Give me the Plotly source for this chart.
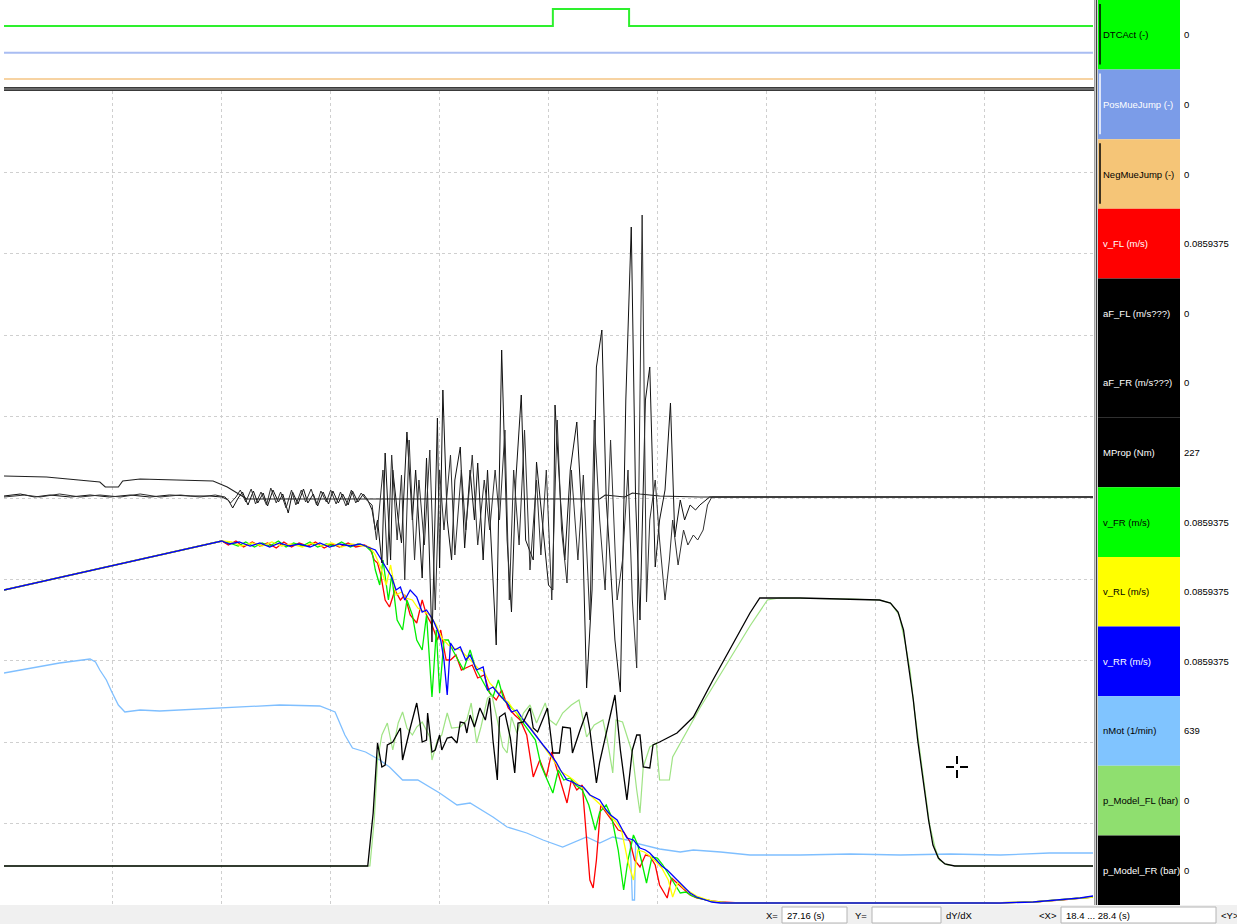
import plotly.graph_objects as go

W, H = 1237, 924

# ---------------- data (time in s, values in signal units) ----------------
DTC_ACT = [(18.40, 0), (23.44, 1), (24.14, 0), (28.40, 0)]
POS_MUE_JUMP = [(18.40, 0), (28.40, 0)]
NEG_MUE_JUMP = [(18.40, 0), (28.40, 0)]

V_FL = [(18.40,31.3),(20.40,36.2),(20.46,35.8),(20.53,36.2),(20.60,35.6),(20.68,36.1),(20.75,35.7),(20.82,36.0),
        (20.90,35.5),(20.97,36.1),(21.04,35.6),(21.11,36.0),(21.19,35.7),(21.26,36.1),(21.34,35.5),(21.41,35.9),
        (21.48,35.6),(21.56,36.0),(21.63,35.6),(21.71,35.8),(21.76,35.5),(21.80,34.3),(21.83,34.0),(21.86,32.8),
        (21.90,30.3),(21.94,29.6),(21.99,31.3),(22.04,30.3),(22.08,30.8),(22.13,28.8),(22.19,28.0),(22.24,30.3),
        (22.28,28.8),(22.33,27.8),(22.38,26.3),(22.41,27.3),(22.46,24.3),(22.50,24.3),(22.55,24.8),(22.60,23.3),
        (22.64,23.5),(22.70,23.8),(22.75,22.5),(22.81,22.8),(22.86,21.0),(22.92,20.3),(22.97,21.3),(23.03,19.5),
        (23.09,18.8),(23.14,18.3),(23.20,16.8),(23.26,12.6),(23.32,14.3),(23.38,12.6),(23.43,15.1),(23.48,13.3),
        (23.53,11.3),(23.57,10.0),(23.61,12.3),(23.66,11.3),(23.71,11.8),(23.74,7.3),(23.78,2.3),(23.81,1.5),
        (23.84,4.3),(23.88,9.8),(23.93,9.1),(23.98,8.3),(24.04,7.3),(24.09,7.1),(24.15,6.1),(24.19,4.3),
        (24.24,3.6),(24.29,4.8),(24.33,4.7),(24.38,3.8),(24.42,1.8),(24.49,0.5),(24.53,2.5),(24.58,2.0),
        (24.64,1.3),(24.70,0.8),(24.76,0.5),(24.84,0.3),(24.90,0.2),(24.98,0.1),(25.16,0.0),(27.41,0.0),
        (27.85,0.1),(28.10,0.3),(28.40,0.6)]

V_FR = [(18.40,31.3),(20.40,36.2),(20.47,36.0),(20.55,35.7),(20.62,36.1),(20.70,35.6),(20.77,36.0),(20.84,35.7),
        (20.92,36.2),(20.99,35.6),(21.06,36.0),(21.14,35.7),(21.21,36.1),(21.28,35.6),(21.36,35.9),(21.43,35.7),
        (21.50,36.1),(21.58,35.6),(21.65,35.9),(21.72,35.7),(21.78,35.1),(21.81,33.3),(21.85,31.8),(21.88,34.3),
        (21.93,30.3),(21.96,32.8),(22.01,28.3),(22.06,27.3),(22.10,30.3),(22.15,28.8),(22.19,26.3),(22.24,25.3),
        (22.28,28.8),(22.33,20.6),(22.37,27.3),(22.40,21.0),(22.44,26.3),(22.48,26.3),(22.52,25.3),(22.57,24.3),
        (22.62,23.3),(22.68,25.3),(22.73,23.5),(22.79,22.3),(22.84,21.3),(22.89,20.6),(22.94,22.3),(22.99,20.3),
        (23.05,19.7),(23.10,19.1),(23.16,18.1),(23.21,17.3),(23.28,16.3),(23.33,13.8),(23.39,12.3),(23.44,11.0),
        (23.49,13.3),(23.54,12.3),(23.60,12.5),(23.65,11.8),(23.71,11.3),(23.77,9.8),(23.83,7.3),(23.87,9.1),
        (23.93,9.8),(23.98,8.6),(24.04,5.3),(24.09,1.3),(24.13,4.3),(24.18,6.8),(24.22,5.8),(24.27,3.3),
        (24.30,2.0),(24.35,4.6),(24.40,4.5),(24.45,3.8),(24.51,2.8),(24.57,1.8),(24.61,1.0),(24.66,1.1),
        (24.72,0.7),(24.77,0.5),(24.85,0.3),(24.93,0.1),(25.07,0.0),(27.41,0.0),(27.85,0.1),(28.10,0.3),
        (28.40,0.6)]

V_RL = [(18.40,31.3),(20.40,36.2),(20.49,36.1),(20.58,35.7),(20.68,36.0),(20.77,35.7),(20.86,36.1),(20.95,35.7),
        (21.04,35.9),(21.14,35.6),(21.23,36.0),(21.32,35.7),(21.41,36.0),(21.50,35.6),(21.59,35.9),(21.69,35.7),
        (21.76,35.6),(21.81,34.8),(21.86,33.5),(21.91,31.8),(21.95,33.8),(22.00,30.8),(22.05,31.1),(22.09,30.5),
        (22.15,30.3),(22.20,29.5),(22.26,29.1),(22.31,28.8),(22.37,27.8),(22.42,26.5),(22.48,25.8),(22.53,25.5),
        (22.59,25.3),(22.64,24.8),(22.70,24.1),(22.75,23.5),(22.81,23.1),(22.86,22.0),(22.92,21.3),(22.97,20.5),
        (23.03,20.1),(23.08,19.3),(23.14,18.7),(23.19,18.1),(23.25,17.3),(23.30,16.5),(23.36,15.5),(23.41,14.8),
        (23.47,13.9),(23.52,13.1),(23.58,12.7),(23.63,12.3),(23.69,11.7),(23.74,11.3),(23.80,10.6),(23.85,10.1),
        (23.91,9.5),(23.96,8.8),(24.02,8.1),(24.07,7.3),(24.13,4.1),(24.18,2.3),(24.22,5.3),(24.28,5.1),
        (24.33,4.7),(24.39,4.1),(24.44,3.5),(24.50,2.3),(24.54,0.6),(24.59,2.1),(24.64,1.5),(24.70,1.1),
        (24.76,0.7),(24.84,0.4),(24.90,0.2),(25.02,0.0),(27.41,0.0),(27.85,0.1),(28.10,0.3),(28.40,0.6)]

V_RR = [(18.40,31.3),(20.40,36.2),(20.47,35.9),(20.56,36.1),(20.66,35.7),(20.75,36.0),(20.84,35.6),(20.93,36.0),
        (21.02,35.7),(21.11,35.9),(21.21,35.6),(21.30,36.0),(21.39,35.6),(21.48,35.9),(21.58,35.7),(21.67,35.9),
        (21.74,35.6),(21.81,35.3),(21.85,34.6),(21.91,33.5),(21.96,32.6),(22.00,31.3),(22.04,31.6),(22.08,30.3),
        (22.13,31.3),(22.19,30.6),(22.24,29.1),(22.28,29.3),(22.34,28.3),(22.38,27.3),(22.41,26.3),(22.44,24.3),
        (22.47,20.8),(22.50,26.0),(22.54,25.3),(22.59,25.6),(22.64,24.3),(22.68,24.8),(22.74,23.3),(22.80,23.6),
        (22.84,21.3),(22.89,21.6),(22.95,20.8),(23.02,20.0),(23.06,19.1),(23.11,19.3),(23.17,18.3),(23.23,17.5),
        (23.29,16.6),(23.35,15.8),(23.41,15.0),(23.47,14.1),(23.51,13.3),(23.57,12.3),(23.62,12.1),(23.67,11.8),
        (23.72,11.6),(23.78,10.8),(23.87,10.3),(23.93,9.3),(23.97,8.8),(24.03,8.3),(24.08,7.3),(24.12,6.5),
        (24.18,6.3),(24.24,5.5),(24.29,5.3),(24.33,5.0),(24.39,4.3),(24.44,3.7),(24.49,3.3),(24.56,2.5),
        (24.64,1.6),(24.70,1.0),(24.76,0.6),(24.84,0.3),(24.90,0.1),(24.98,0.0),(25.71,0.0),(26.63,0.0),
        (27.41,0.0),(27.55,0.0),(27.85,0.1),(28.10,0.3),(28.28,0.5),(28.40,0.7)]

AF_FL = [(18.40,0.05),(18.55,0.15),(18.68,0),(18.82,0.1),(19.01,0),(19.19,0.1),(19.37,0),(19.56,0.1),(19.74,0),
         (19.92,0.1),(20.11,0.05),(20.29,0.05),(20.40,0),(20.46,-0.15),(20.50,-0.55),(20.55,-0.05),(20.59,0.25),
         (20.64,-0.4),(20.69,0.3),(20.73,-0.3),(20.78,0.2),(20.82,-0.45),(20.87,0.35),(20.92,-0.25),(20.96,0.15),
         (21.01,-0.8),(21.05,0.25),(21.10,-0.35),(21.15,0.4),(21.19,-0.3),(21.24,0.15),(21.28,-0.45),(21.33,0.25),
         (21.38,-0.35),(21.42,0.3),(21.47,-0.3),(21.51,0.15),(21.56,-0.4),(21.60,0.3),(21.65,-0.25),(21.70,0.15),
         (21.74,-0.15),(21.78,-0.65),(21.81,-1.65),(21.83,-1.15),(21.87,-3.3),(21.90,2.2),(21.95,-3.15),(21.97,1.35),
         (22.02,-1.15),(22.05,-2.3),(22.10,3.25),(22.15,-1.15),(22.18,1.35),(22.24,-4.05),(22.28,1.95),(22.33,-7.25),
         (22.38,3.95),(22.40,-3.55),(22.43,5.35),(22.47,-1.15),(22.51,-3.15),(22.54,0.85),(22.59,2.5),(22.63,-2.55),
         (22.68,1.35),(22.72,-1.15),(22.75,1.7),(22.80,-3.15),(22.84,1.35),(22.92,-7.4),(22.97,7.35),(23.02,-2.15),
         (23.06,-5.75),(23.10,0.85),(23.15,5.1),(23.19,-2.15),(23.26,-3.15),(23.29,1.75),(23.34,-1.15),(23.40,-4.4),
         (23.44,-4.65),(23.46,4.6),(23.51,-0.15),(23.55,-3.15),(23.60,1.35),(23.66,3.75),(23.71,-1.15),(23.75,-9.55),
         (23.80,-4.65),(23.84,6.5),(23.89,8.35),(23.93,-0.15),(23.96,-2.65),(24.01,-7.15),(24.06,-9.75),(24.11,4.85),
         (24.16,13.5),(24.20,-0.15),(24.24,-6.15),(24.29,4.85),(24.33,6.5),(24.38,-3.5),(24.42,-1.15),(24.47,0.35),
         (24.52,4.7),(24.56,-2.0),(24.61,-0.15),(24.65,-1.15),(24.70,-0.4),(24.75,-0.65),(24.79,-0.4),(24.84,-0.15),
         (24.88,0),(28.40,0)]

AF_FR = [(18.40,0),(18.59,0.1),(18.73,0),(18.91,0.15),(19.10,0),(19.28,0.1),(19.47,0),(19.65,0.15),(19.83,0),
         (20.02,0.1),(20.20,0),(20.34,0.1),(20.43,0),(20.48,-0.3),(20.53,0),(20.57,0.35),(20.62,-0.25),(20.67,0.4),
         (20.71,-0.35),(20.76,0.25),(20.81,-0.4),(20.85,0.45),(20.90,-0.3),(20.94,0.25),(20.99,-0.55),(21.04,0.35),
         (21.08,-0.4),(21.13,0.35),(21.17,-0.25),(21.22,0.4),(21.27,-0.4),(21.31,0.3),(21.36,-0.25),(21.40,0.35),
         (21.45,-0.35),(21.49,0.25),(21.54,-0.45),(21.59,0.35),(21.63,-0.3),(21.68,0.2),(21.72,-0.1),(21.78,-0.4),
         (21.82,-2.15),(21.88,1.35),(21.92,-3.4),(21.96,2.1),(22.01,-2.15),(22.05,1.1),(22.08,-4.15),(22.12,2.85),
         (22.17,-3.15),(22.21,0.85),(22.26,-2.4),(22.31,2.35),(22.36,-5.65),(22.40,1.35),(22.44,-1.65),(22.50,2.1),
         (22.54,-2.9),(22.60,1.35),(22.64,-1.65),(22.70,2.1),(22.75,-2.4),(22.81,0.85),(22.86,-1.65),(22.91,1.35),
         (22.95,-1.15),(23.00,3.35),(23.04,-5.15),(23.08,1.35),(23.13,-2.4),(23.18,3.35),(23.23,-3.65),(23.29,0.85),
         (23.33,-2.9),(23.38,1.35),(23.43,-5.15),(23.48,3.85),(23.52,-1.65),(23.57,-4.3),(23.61,1.35),(23.67,-3.15),
         (23.72,1.1),(23.78,-6.15),(23.82,3.85),(23.87,-1.15),(23.92,-4.65),(23.97,2.85),(24.03,-5.15),(24.08,-3.15),
         (24.13,1.35),(24.17,-5.15),(24.21,-8.55),(24.26,14.1),(24.30,-5.25),(24.33,-1.15),(24.38,0.85),(24.42,-2.15),
         (24.47,-5.15),(24.51,-3.15),(24.54,-1.15),(24.59,-3.4),(24.64,-1.65),(24.68,-2.4),(24.73,-1.9),(24.77,-2.15),
         (24.82,-1.65),(24.86,-0.4),(24.90,0),(28.40,0)]

M_PROP = [(18.40,258.5),(18.79,257),(19.28,249.5),(19.33,242),(19.45,242),(19.49,251),(19.65,254),(20.32,251),
          (20.45,242),(20.57,230),(20.63,224),(23.87,224),(23.92,230),(24.10,227),(24.17,233),(24.24,231.5),
          (24.42,228.5),(24.79,227),(28.40,227)]

N_MOT = [(18.40,2459),(18.64,2509),(18.91,2559),(19.19,2599),(19.24,2569),(19.28,2489),(19.34,2389),(19.39,2269),
         (19.45,2139),(19.51,2069),(19.65,2089),(19.83,2079),(20.20,2099),(20.57,2119),(20.93,2139),(21.30,2129),
         (21.44,2069),(21.53,1839),(21.60,1709),(21.72,1669),(21.85,1589),(21.94,1519),(22.06,1389),(22.20,1389),
         (22.40,1259),(22.56,1139),(22.68,1159),(22.89,1019),(23.02,919),(23.20,859),(23.35,789),(23.53,719),
         (23.62,759),(23.75,819),(23.87,759),(23.99,819),(24.12,789),(24.15,779),(24.17,189),(24.19,189),
         (24.20,759),(24.27,739),(24.42,699),(24.61,669),(24.73,689),(24.98,669),(25.25,639),(25.71,639),
         (26.17,649),(26.63,639),(27.09,649),(27.55,639),(28.00,659),(28.40,659)]

P_MODEL_FL = [(18.40,0),(21.76,0),(21.80,23),(21.83,53),(21.87,65.5),(21.92,71.5),(21.97,58),(22.02,71.5),
              (22.06,77),(22.10,69),(22.15,65.5),(22.19,69.5),(22.24,72),(22.31,64.5),(22.33,53),(22.38,63),
              (22.42,65.5),(22.47,76.5),(22.51,69),(22.59,69.5),(22.65,73),(22.69,81.5),(22.74,61.5),(22.78,69.5),
              (22.84,84),(22.88,85.5),(22.93,73),(22.98,59.5),(23.02,56.5),(23.06,74.5),(23.11,66.5),(23.17,76.5),
              (23.23,80.5),(23.29,71.5),(23.37,81.5),(23.41,73),(23.47,70.5),(23.53,76.5),(23.61,80.5),(23.68,83),
              (23.75,64.5),(23.82,70.5),(23.90,73),(23.94,63),(23.99,46.5),(24.02,73),(24.08,72),(24.12,65.5),
              (24.17,56.5),(24.21,38),(24.24,26.5),(24.27,49.5),(24.33,59.5),(24.39,61.5),(24.42,43),(24.51,43),
              (24.54,54.5),(24.79,79),(25.25,120),(25.41,133),(25.52,134),(26.17,133.5),(26.44,133),(26.54,131.5),
              (26.62,125.5),(26.67,113),(26.72,98),(26.76,78),(26.81,58),(26.86,38),(26.90,20.5),(26.95,9),
              (26.99,3),(27.06,0.5),(27.16,0),(28.40,0)]

P_MODEL_FR = [(18.40,0),(21.74,0),(21.79,26.5),(21.83,61.5),(21.87,49.5),(21.90,50.5),(21.92,60.5),(21.97,62.0),
              (22.04,69.0),(22.06,53.0),(22.13,69.0),(22.19,81.5),(22.22,71.5),(22.24,62.0),(22.28,63.0),(22.29,76.5),
              (22.33,57.0),(22.36,58.0),(22.40,65.5),(22.42,58.0),(22.47,64.0),(22.51,64.5),(22.56,61.5),(22.59,72.0),
              (22.63,71.5),(22.65,66.5),(22.68,75.5),(22.72,69.5),(22.77,79.0),(22.82,73.0),(22.86,84.0),(22.89,63.0),
              (22.93,43.0),(22.95,74.5),(23.00,76.5),(23.05,64.0),(23.09,46.5),(23.12,71.5),(23.17,72.0),(23.23,79.0),
              (23.26,69.0),(23.30,67.0),(23.39,79.0),(23.44,56.5),(23.50,56.5),(23.53,69.5),(23.60,69.0),(23.62,56.5),
              (23.69,68.0),(23.75,77.0),(23.78,68.0),(23.84,41.5),(23.87,52.0),(23.92,64.5),(23.96,74.5),(24.01,85.5),
              (24.06,58.0),(24.12,33.0),(24.17,58.0),(24.21,65.5),(24.24,65.5),(24.27,49.5),(24.33,49.0),(24.36,60.5),
              (24.42,62.0),(24.58,66.5),(24.73,74.5),(24.91,93.0),(25.25,126.5),(25.34,134.0),(25.71,134.0),
              (26.17,133.5),(26.44,133.0),(26.54,131.5),(26.61,127.0),(26.66,118.0),(26.70,103.0),(26.75,83.0),
              (26.79,63.0),(26.84,43.0),(26.89,23.0),(26.93,10.5),(26.98,4.0),(27.04,1.0),(27.13,0),(28.40,0)]

LEGEND_NAMES = ["DTCAct (-)", "PosMueJump (-)", "NegMueJump (-)", "v_FL (m/s)", "aF_FL (m/s???)",
                "aF_FR (m/s???)", "MProp (Nm)", "v_FR (m/s)", "v_RL (m/s)", "v_RR (m/s)", "nMot (1/min)",
                "p_Model_FL (bar)", "p_Model_FR (bar)"]
LEGEND_VALUES = ["0", "0", "0", "0.0859375", "0", "0", "227", "0.0859375", "0.0859375", "0.0859375",
                 "639", "0", "0"]
TIME_RANGE = [18.4, 28.4]
STATUS_X_VALUE = "27.16 (s)"
STATUS_X_RANGE = "18.4 ... 28.4 (s)"

# ---------------- styles ----------------
BOX_COLORS = ["#00ff00", "#7b9ce8", "#f5c577", "#ff0000", "#000000", "#000000", "#000000",
              "#00ff00", "#ffff00", "#0000ff", "#80c4ff", "#8fdf6f", "#000000"]
LABEL_COLORS = ["#000000", "#ffffff", "#000000", "#ffffff", "#ffffff", "#ffffff", "#ffffff",
                "#000000", "#000000", "#ffffff", "#000000", "#000000", "#ffffff"]
FONT = "Liberation Sans, Arial, sans-serif"
GRID = "#cfcfcf"


def X(px):
    return px / W


def Y(py):
    return 1 - py / H


fig = go.Figure()


def add(points, color, xa, ya, width=1.2, opacity=1.0, shape="linear"):
    t, v = zip(*points)
    fig.add_trace(go.Scatter(x=list(t), y=list(v), mode="lines", xaxis=xa, yaxis=ya,
                             line=dict(color=color, width=width, shape=shape),
                             opacity=opacity, showlegend=False, hoverinfo="skip"))


# top strip
add(DTC_ACT, "#2ef02e", "x2", "y6", width=2, shape="hv")
add(POS_MUE_JUMP, "#a9bdf2", "x2", "y7", width=2)
add(NEG_MUE_JUMP, "#f7d3a2", "x2", "y8", width=2)
# main area
add(N_MOT, "#7fbfff", "x", "y", width=1.3)
add(V_FL, "#ff0000", "x", "y2", width=1.3)
add(V_FR, "#00ee00", "x", "y2", width=1.3)
add(V_RL, "#ffff00", "x", "y2", width=1.3)
add(V_RR, "#0000ff", "x", "y2", width=1.3)
add(M_PROP, "#202020", "x", "y3", width=1.1)
add(AF_FL, "#111111", "x", "y4", width=1.0)
add(AF_FR, "#303030", "x", "y4", width=1.0)
add(P_MODEL_FL, "#8fdf6f", "x", "y5", width=1.2, opacity=0.85)
add(P_MODEL_FR, "#000000", "x", "y5", width=1.3)

main_dom = [19 / H, 833 / H]
strip_dom = [836 / H, 1.0]
hidden = dict(visible=False, showgrid=False, zeroline=False)

fig.update_layout(
    width=W, height=H, autosize=False,
    margin=dict(l=0, r=0, t=0, b=0, pad=0),
    paper_bgcolor="white", plot_bgcolor="white",
    showlegend=False,
    xaxis=dict(domain=[X(4), X(1093)], range=TIME_RANGE, anchor="y",
               showgrid=True, gridcolor=GRID, griddash="dot", gridwidth=1,
               tick0=TIME_RANGE[0], dtick=1, showticklabels=False, ticks="",
               zeroline=False, showline=False),
    xaxis2=dict(domain=[X(4), X(1093)], matches="x", anchor="y6", showgrid=False,
                showticklabels=False, ticks="", zeroline=False, showline=False),
    yaxis=dict(domain=main_dom, range=[139, 8279], anchor="x", tick0=139, dtick=814,
               showgrid=True, gridcolor=GRID, griddash="dot", gridwidth=1,
               showticklabels=False, ticks="", zeroline=False, showline=False),
    yaxis2=dict(overlaying="y", range=[-0.2, 81.2], **hidden),
    yaxis3=dict(overlaying="y", range=[-385, 836], **hidden),
    yaxis4=dict(overlaying="y", range=[-20.4, 20.3], **hidden),
    yaxis5=dict(overlaying="y", range=[-19.5, 387.5], **hidden),
    yaxis6=dict(domain=strip_dom, anchor="x2", range=[-3.647, 1.529], **hidden),
    yaxis7=dict(overlaying="y6", range=[-2.076, 3.100], **hidden),
    yaxis8=dict(overlaying="y6", range=[-0.529, 4.647], **hidden),
)

shapes = []
annotations = []

# separator between digital strip and main area
shapes.append(dict(type="rect", xref="paper", yref="paper", x0=X(4), x1=X(1094), y0=Y(91), y1=Y(87),
                   fillcolor="#9a9a9a", line=dict(width=0), layer="above"))
for yy in (87.8, 90.3):
    shapes.append(dict(type="line", xref="paper", yref="paper", x0=X(4), x1=X(1094), y0=Y(yy), y1=Y(yy),
                       line=dict(color="#3a3a3a", width=1.4), layer="above"))

# vertical separator before legend panel
shapes.append(dict(type="line", xref="paper", yref="paper", x0=X(1094.5), x1=X(1094.5), y0=Y(0), y1=Y(905),
                   line=dict(color="#a0a0a0", width=1)))
shapes.append(dict(type="line", xref="paper", yref="paper", x0=X(1096.5), x1=X(1096.5), y0=Y(0), y1=Y(905),
                   line=dict(color="#404040", width=1.5)))

# legend panel
n = len(LEGEND_NAMES)
box_h = 905 / n
for i, (name, val, bc, lc) in enumerate(zip(LEGEND_NAMES, LEGEND_VALUES, BOX_COLORS, LABEL_COLORS)):
    top = i * box_h
    bot = (i + 1) * box_h
    shapes.append(dict(type="rect", xref="paper", yref="paper", x0=X(1098), x1=X(1180), y0=Y(bot), y1=Y(top),
                       fillcolor=bc, line=dict(width=0)))
    annotations.append(dict(x=X(1101), y=Y((top + bot) / 2), xref="paper", yref="paper", text=name,
                            showarrow=False, xanchor="left", yanchor="middle",
                            font=dict(family=FONT, size=9.5, color=lc)))
    annotations.append(dict(x=X(1182), y=Y((top + bot) / 2), xref="paper", yref="paper", text=val,
                            showarrow=False, xanchor="left", yanchor="middle",
                            font=dict(family=FONT, size=9.5, color="#000000")))
for i, mc in enumerate(["#000000", "#ffffff", "#000000"]):
    top = i * box_h
    bot = (i + 1) * box_h
    shapes.append(dict(type="line", xref="paper", yref="paper", x0=X(1100), x1=X(1100),
                       y0=Y(bot - 5), y1=Y(top + 4), line=dict(color=mc, width=1.5)))

# status bar
shapes.append(dict(type="rect", xref="paper", yref="paper", x0=0, x1=1, y0=0, y1=Y(905),
                   fillcolor="#f0f0f0", line=dict(width=0), layer="below"))
for x0, x1 in ((782, 847), (872, 941), (1061, 1216)):
    shapes.append(dict(type="rect", xref="paper", yref="paper", x0=X(x0), x1=X(x1), y0=Y(923), y1=Y(907),
                       fillcolor="#ffffff", line=dict(color="#b4b4b4", width=1)))
status_items = [("X=", 780, "right"), (STATUS_X_VALUE, 785, "left"), ("Y=", 869, "right"),
                ("dY/dX", 944, "left"), ("<X>", 1059, "right"), (STATUS_X_RANGE, 1064, "left"),
                ("<Y>", 1219, "left")]
for txt, xp, anc in status_items:
    annotations.append(dict(x=X(xp), y=Y(915), xref="paper", yref="paper",
                            text=txt.replace("<", "&lt;").replace(">", "&gt;"),
                            showarrow=False, xanchor=anc, yanchor="middle",
                            font=dict(family=FONT, size=9.5, color="#000000")))

# mouse cursor (move cross)
cx, cy = 957, 767
for (x0, y0, x1, y1) in ((cx - 11, cy, cx - 3, cy), (cx + 3, cy, cx + 11, cy),
                         (cx, cy - 11, cx, cy - 3), (cx, cy + 3, cx, cy + 11)):
    shapes.append(dict(type="line", xref="paper", yref="paper", x0=X(x0), x1=X(x1), y0=Y(y0), y1=Y(y1),
                       line=dict(color="#000000", width=2)))

fig.update_layout(shapes=shapes, annotations=annotations)
fig.write_html("out.html", config={"displayModeBar": False},
               post_script="document.body.style.margin='0px';document.body.style.overflow='hidden';")
